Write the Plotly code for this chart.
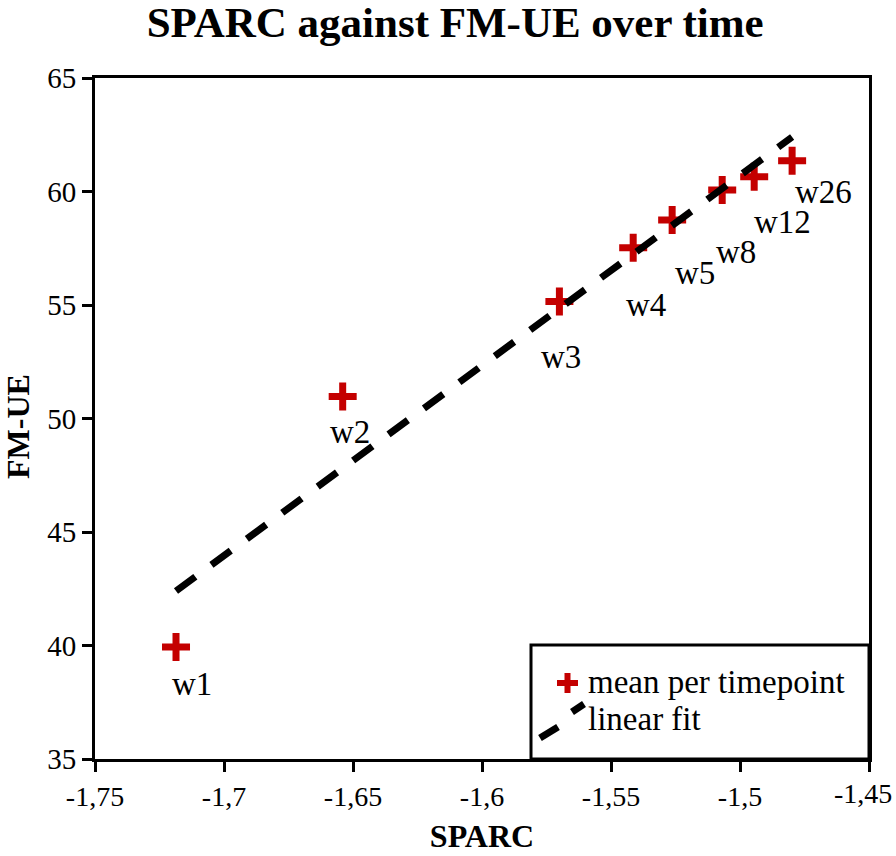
import plotly.graph_objects as go

# ---- data ----
timepoints = ["w1", "w2", "w3", "w4", "w5", "w8", "w12", "w26"]
sparc = [-1.7186, -1.6540, -1.5700, -1.5414, -1.5263, -1.5069, -1.4945, -1.4798]
fmue = [39.93, 50.97, 55.15, 57.52, 58.75, 60.07, 60.65, 61.35]

fit_x = [-1.7186, -1.4798]
fit_y = [42.4, 62.4]

x_tick_vals = [-1.75, -1.7, -1.65, -1.6, -1.55, -1.5, -1.45]
x_tick_labels = ["-1,75", "-1,7", "-1,65", "-1,6", "-1,55", "-1,5", "-1,45"]
y_tick_vals = [35, 40, 45, 50, 55, 60, 65]
y_tick_labels = ["35", "40", "45", "50", "55", "60", "65"]

legend_labels = ["mean per timepoint", "linear fit"]

# label offsets (pixels) for the timepoint annotations
label_dx = [16, 7, 2, 13, 23, 14, 28, 31]
label_dy = [-37, -36, -55, -57, -53, -62, -45, -31]

FONT = "Liberation Serif, Times New Roman, serif"
RED = "#C40000"

fig = go.Figure()

fig.add_trace(go.Scatter(
    x=sparc, y=fmue, mode="markers", name=legend_labels[0],
    marker=dict(symbol="cross-thin", size=20, color=RED,
                line=dict(color=RED, width=7)),
    showlegend=False, hoverinfo="skip"))

fig.add_trace(go.Scatter(
    x=fit_x, y=fit_y, mode="lines", name=legend_labels[1],
    line=dict(color="black", width=7, dash="24px,20px"),
    showlegend=False, hoverinfo="skip"))

for t, xv, yv, dx, dy in zip(timepoints, sparc, fmue, label_dx, label_dy):
    fig.add_annotation(x=xv, y=yv, text=t, showarrow=False,
                       xshift=dx, yshift=dy,
                       font=dict(family=FONT, size=33, color="black"))

# ---- custom legend (box, glyphs, text) ----
L, R, T, B = 95, 869, 78, 759
def px(x):
    return (x - L) / (R - L)
def py(y):
    return (B - y) / (B - T)

fig.add_shape(type="rect", xref="paper", yref="paper",
              x0=px(531), x1=px(869), y0=py(759), y1=py(645),
              line=dict(color="black", width=3), fillcolor="white", layer="above")
# plus glyph
fig.add_shape(type="line", xref="paper", yref="paper",
              x0=px(557), x1=px(578), y0=py(683), y1=py(683),
              line=dict(color=RED, width=6), layer="above")
fig.add_shape(type="line", xref="paper", yref="paper",
              x0=px(567.5), x1=px(567.5), y0=py(673), y1=py(693),
              line=dict(color=RED, width=6), layer="above")
# dashed diagonal glyph
fig.add_shape(type="line", xref="paper", yref="paper",
              x0=px(540), x1=px(558), y0=py(738), y1=py(727),
              line=dict(color="black", width=7), layer="above")
fig.add_shape(type="line", xref="paper", yref="paper",
              x0=px(572), x1=px(584), y0=py(712), y1=py(704),
              line=dict(color="black", width=7), layer="above")
fig.add_annotation(xref="paper", yref="paper", x=px(586), y=py(682),
                   xanchor="left", yanchor="middle", showarrow=False,
                   text=legend_labels[0], font=dict(family=FONT, size=33, color="black"))
fig.add_annotation(xref="paper", yref="paper", x=px(586), y=py(719),
                   xanchor="left", yanchor="middle", showarrow=False,
                   text=legend_labels[1], font=dict(family=FONT, size=33, color="black"))

# y-axis title placed as an annotation to match the reference's position
fig.add_annotation(xref="paper", yref="paper", x=px(18), y=py(427),
                   xanchor="center", yanchor="middle", showarrow=False,
                   textangle=-90, text="<b>FM-UE</b>",
                   font=dict(family=FONT, size=32, color="black"))

# last x tick label is right-aligned against the page edge, as in the reference
fig.add_annotation(xref="paper", yref="paper", x=px(894), y=py(793),
                   xanchor="right", yanchor="middle", showarrow=False,
                   text=x_tick_labels[-1],
                   font=dict(family=FONT, size=28, color="black"))

fig.update_layout(
    width=896, height=856,
    margin=dict(l=L, r=896 - R, t=T, b=856 - B, autoexpand=False),
    paper_bgcolor="white", plot_bgcolor="white",
    showlegend=False,
    font=dict(family=FONT, color="black"),
    title=dict(text="<b>SPARC against FM-UE over time</b>",
               x=0.508, xref="container", xanchor="center",
               y=1 - 22 / 856, yref="container", yanchor="middle",
               font=dict(family=FONT, size=43, color="black")),
)

fig.update_xaxes(
    range=[-1.75, -1.45], tickvals=x_tick_vals,
    ticktext=x_tick_labels[:-1] + [""],
    showline=True, mirror=True, linecolor="black", linewidth=3,
    ticks="outside", ticklen=10, tickwidth=3, tickcolor="black",
    showgrid=False, zeroline=False,
    tickfont=dict(family=FONT, size=28, color="black"),
    title=dict(text="<b>SPARC</b>", standoff=15,
               font=dict(family=FONT, size=32, color="black")),
)
fig.update_yaxes(
    range=[35, 65], tickvals=y_tick_vals, ticktext=y_tick_labels,
    showline=True, mirror=True, linecolor="black", linewidth=3,
    ticks="outside", ticklen=10, tickwidth=3, tickcolor="black",
    showgrid=False, zeroline=False,
    tickfont=dict(family=FONT, size=29, color="black"),
)

fig.write_html("out.html", config={"displayModeBar": False},
               post_script="document.body.style.margin='0';document.body.style.overflow='hidden';")
